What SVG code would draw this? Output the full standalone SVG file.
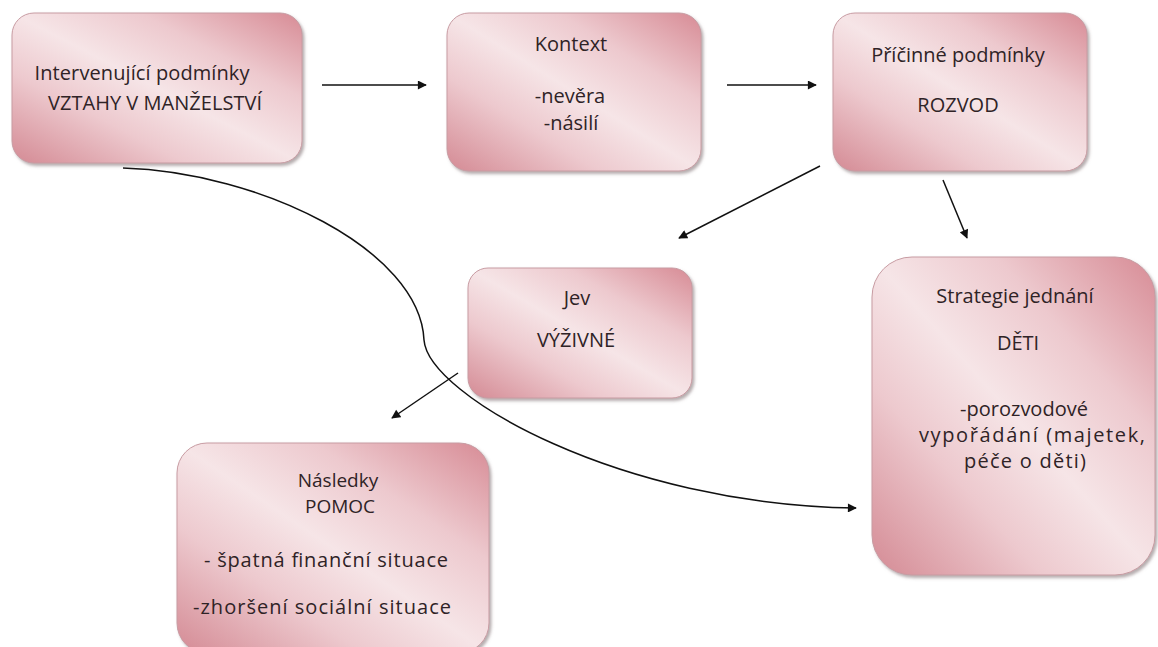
<svg xmlns="http://www.w3.org/2000/svg" width="1158" height="647" viewBox="0 0 1158 647">
<style>
.box{fill:url(#pink);stroke:#c79ba2;stroke-width:1;filter:url(#sh)}
.t{font-family:"Open Sans","Liberation Sans",sans-serif;font-size:20px;fill:#2f2326;text-anchor:middle}
.s{font-size:19px}
.c{fill:none;stroke:#111;stroke-width:1.5}
</style>
<defs>
<linearGradient id="pink" x1="0" y1="1" x2="1" y2="0">
<stop offset="0" stop-color="#d48a94"/>
<stop offset="0.3" stop-color="#edc9ce"/>
<stop offset="0.5" stop-color="#f6e5e7"/>
<stop offset="0.72" stop-color="#edc9ce"/>
<stop offset="1" stop-color="#d78b95"/>
</linearGradient>
<filter id="sh" x="-5%" y="-5%" width="115%" height="115%">
<feDropShadow dx="2" dy="2.5" stdDeviation="1.5" flood-color="#7a6a6c" flood-opacity="0.55"/>
</filter>
<marker id="ah" viewBox="0 0 10 10" refX="9" refY="5" markerWidth="10" markerHeight="9" markerUnits="userSpaceOnUse" orient="auto">
<path d="M0,0 L10,5 L0,10 z" fill="#111"/>
</marker>
</defs>
<rect width="1158" height="647" fill="#fff"/>
<g id="connectors">
<line class="c" x1="322" y1="85" x2="426" y2="85" marker-end="url(#ah)"/>
<line class="c" x1="727" y1="85" x2="816" y2="85" marker-end="url(#ah)"/>
<line class="c" x1="820" y1="166" x2="679" y2="238" marker-end="url(#ah)"/>
<line class="c" x1="943" y1="180" x2="967" y2="238" marker-end="url(#ah)"/>
<line class="c" x1="458" y1="373" x2="392" y2="418" marker-end="url(#ah)"/>
<path class="c" d="M123,168 C260,172 420,250 424,340 C428,395 620,505 856,508" marker-end="url(#ah)"/>
</g>
<g id="intervenujici">
<rect class="box" x="12" y="13" width="290" height="150" rx="22"/>
<text class="t" x="142" y="80" textLength="215" lengthAdjust="spacing">Intervenující podmínky</text>
<text class="t" x="155" y="110" textLength="214" lengthAdjust="spacing">VZTAHY V MANŽELSTVÍ</text>
</g>
<g id="kontext">
<rect class="box" x="447" y="13" width="254" height="158" rx="22"/>
<text class="t" x="571" y="51">Kontext</text>
<text class="t" x="570" y="103">-nevěra</text>
<text class="t" x="571" y="130">-násilí</text>
</g>
<g id="pricinne">
<rect class="box" x="833" y="13" width="254" height="158" rx="22"/>
<text class="t" x="958" y="62">Příčinné podmínky</text>
<text class="t" x="958" y="112">ROZVOD</text>
</g>
<g id="jev">
<rect class="box" x="468" y="268" width="224" height="130" rx="20"/>
<text class="t" x="577" y="305">Jev</text>
<text class="t" x="576" y="347">VÝŽIVNÉ</text>
</g>
<g id="strategie">
<rect class="box" x="872" y="257" width="283" height="318" rx="40"/>
<text class="t" x="1015" y="303">Strategie jednání</text>
<text class="t" x="1018" y="350">DĚTI</text>
<text class="t" x="1024" y="416">-porozvodové</text>
<text class="t" x="1032" y="442" textLength="226" lengthAdjust="spacing">vypořádání (majetek,</text>
<text class="t" x="1025" y="468" textLength="122" lengthAdjust="spacing">péče o děti)</text>
</g>
<g id="nasledky">
<rect class="box" x="177" y="443" width="312" height="210" rx="30"/>
<text class="t s" x="338" y="487">Následky</text>
<text class="t s" x="340" y="513">POMOC</text>
<text class="t" x="326" y="567" textLength="244" lengthAdjust="spacing">- špatná finanční situace</text>
<text class="t" x="322" y="614" textLength="258" lengthAdjust="spacing">-zhoršení sociální situace</text>
</g>
</svg>
